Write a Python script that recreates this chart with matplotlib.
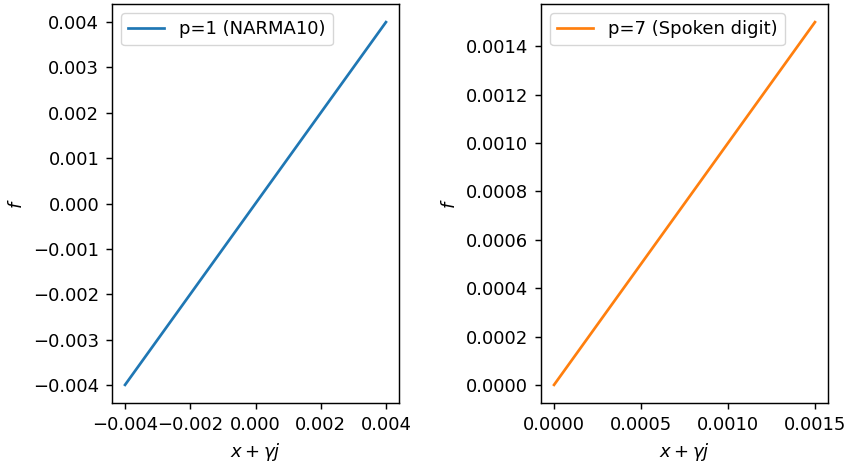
import matplotlib
matplotlib.use("Agg")
import matplotlib.pyplot as plt

# Data
narma_x = [-0.004, -0.002, 0.0, 0.002, 0.004]
narma_f = [-0.004, -0.002, 0.0, 0.002, 0.004]
spoken_x = [0.0, 0.0005, 0.0010, 0.0015]
spoken_f = [0.0, 0.0005, 0.0010, 0.0015]
labels = ["p=1 (NARMA10)", "p=7 (Spoken digit)"]

s = 1.3
plt.rcParams.update({
    "font.size": 10 * s,
    "axes.linewidth": 0.8 * s,
    "xtick.major.size": 3.5 * s,
    "ytick.major.size": 3.5 * s,
    "xtick.major.width": 0.8 * s,
    "ytick.major.width": 0.8 * s,
    "xtick.major.pad": 3.5 * s,
    "ytick.major.pad": 3.5 * s,
    "legend.fontsize": 10 * s,
})

fig = plt.figure(figsize=(8.49, 4.65), dpi=100)
ax1 = fig.add_axes([112/849, 1-403/465, (399-112)/849, (403-4)/465])
ax2 = fig.add_axes([541/849, 1-403/465, (828-541)/849, (403-4)/465])

ax1.plot(narma_x, narma_f, color="#1f77b4", label=labels[0], lw=1.5 * s)
ax2.plot(spoken_x, spoken_f, color="#ff7f0e", label=labels[1], lw=1.5 * s)

for ax in (ax1, ax2):
    ax.set_xlabel(r"$x+\gamma j$", labelpad=4 * s)
    ax.set_ylabel(r"$f$", labelpad=4 * s)
    ax.legend(loc="upper left")

ax1.set_xticks([-0.004, -0.002, 0.0, 0.002, 0.004])
ax1.set_yticks([-0.004, -0.003, -0.002, -0.001, 0.0, 0.001, 0.002, 0.003, 0.004])
ax2.set_xticks([0.0, 0.0005, 0.0010, 0.0015])

fig.savefig("out.png", dpi=100)
